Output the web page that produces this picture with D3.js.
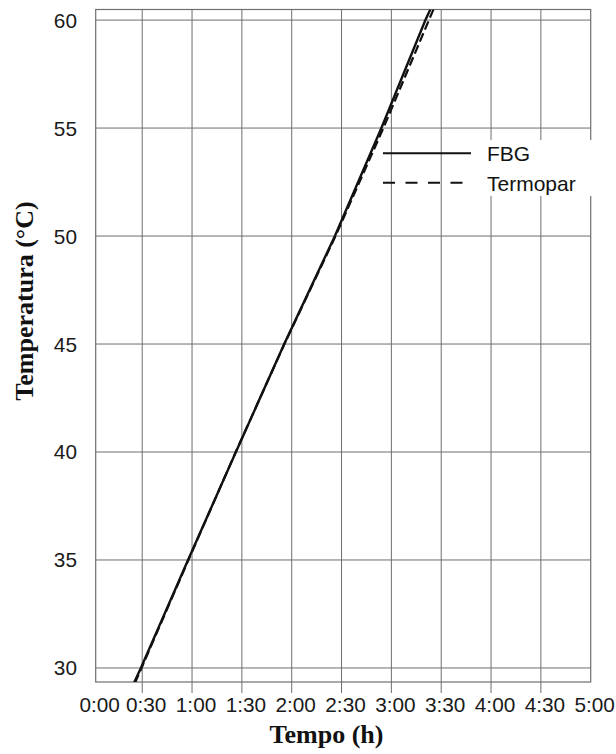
<!DOCTYPE html>
<html>
<head>
<meta charset="utf-8">
<script src="https://cdn.jsdelivr.net/npm/d3@7"></script>
<style>
  html, body { margin: 0; padding: 0; background: #fff; }
  svg { display: block; }
</style>
</head>
<body>
<svg id="chart" width="616" height="754"></svg>
<script>
// Time in minutes, temperature in °C
const fbgTime = [25, 29.2, 57.6, 86.4, 115.5, 146, 174, 200.5, 203.5];
const fbgTemp = [29.3, 30, 35, 40, 45, 50, 55, 60, 60.5];
const termoparTime = [25.6, 29.6, 57.8, 86.3, 115.6, 146.4, 175.2, 202.6, 205.4];
const termoparTemp = [29.3, 30, 35, 40, 45, 50, 55, 60, 60.5];

const xTickMinutes = [0, 30, 60, 90, 120, 150, 180, 210, 240, 270, 300];
const xTickLabels = ["0:00", "0:30", "1:00", "1:30", "2:00", "2:30", "3:00", "3:30", "4:00", "4:30", "5:00"];
const yTicks = [30, 35, 40, 45, 50, 55, 60];
const seriesNames = ["FBG", "Termopar"];

const svg = d3.select("#chart");
const plotLeft = 95.7, plotRight = 590.7, plotTop = 9.5, plotBottom = 682;

const x = d3.scaleLinear().domain([2, 300]).range([plotLeft, plotRight]);
const y = d3.scaleLinear().domain([29.35, 60.49]).range([plotBottom, plotTop]);

const gridColor = "#6e6e6e";
const labelFont = "Liberation Sans, Arial, sans-serif";
const titleFont = "Liberation Serif, Times New Roman, serif";

// Vertical grid lines, extended below the frame as tick marks
svg.append("g").selectAll("line")
  .data(xTickMinutes.filter(m => m > 2 && m < 300))
  .join("line")
  .attr("x1", d => x(d)).attr("x2", d => x(d))
  .attr("y1", plotTop).attr("y2", plotBottom + 11)
  .attr("stroke", gridColor).attr("stroke-width", 1);

// Horizontal grid lines
svg.append("g").selectAll("line")
  .data(yTicks)
  .join("line")
  .attr("x1", plotLeft).attr("x2", plotRight)
  .attr("y1", d => y(d)).attr("y2", d => y(d))
  .attr("stroke", gridColor).attr("stroke-width", 1);

// Plot frame
svg.append("rect")
  .attr("x", plotLeft).attr("y", plotTop)
  .attr("width", plotRight - plotLeft).attr("height", plotBottom - plotTop)
  .attr("fill", "none").attr("stroke", gridColor).attr("stroke-width", 1.2);

// Tick labels
svg.append("g").selectAll("text")
  .data(xTickMinutes)
  .join("text")
  .attr("x", d => x(Math.max(d, x.domain()[0])) + 4)
  .attr("y", 711.5)
  .attr("text-anchor", "middle")
  .attr("font-family", labelFont)
  .attr("font-size", 20.8)
  .attr("fill", "#1a1a1a")
  .text((d, i) => xTickLabels[i]);

svg.append("g").selectAll("text")
  .data(yTicks)
  .join("text")
  .attr("x", 77)
  .attr("y", d => y(d))
  .attr("dy", "0.36em")
  .attr("text-anchor", "end")
  .attr("font-family", labelFont)
  .attr("font-size", 20.8)
  .attr("fill", "#1a1a1a")
  .text(d => d);

// Axis titles
svg.append("text")
  .attr("x", 326.5).attr("y", 743)
  .attr("text-anchor", "middle")
  .attr("font-family", titleFont)
  .attr("font-weight", "bold")
  .attr("font-size", 26)
  .attr("fill", "#111")
  .text("Tempo (h)");

svg.append("text")
  .attr("transform", "translate(33,301) rotate(-90)")
  .attr("text-anchor", "middle")
  .attr("font-family", titleFont)
  .attr("font-weight", "bold")
  .attr("font-size", 26)
  .attr("fill", "#111")
  .text("Temperatura (°C)");

// Data lines, clipped to the plot frame
svg.append("clipPath").attr("id", "plotClip")
  .append("rect").attr("x", plotLeft).attr("y", plotTop)
  .attr("width", plotRight - plotLeft).attr("height", plotBottom - plotTop);

const line = d3.line().x(d => x(d[0])).y(d => y(d[1]));
const plot = svg.append("g").attr("clip-path", "url(#plotClip)");

plot.append("path")
  .datum(termoparTime.map((t, i) => [t, termoparTemp[i]]))
  .attr("d", line)
  .attr("fill", "none").attr("stroke", "#111")
  .attr("stroke-width", 2.2)
  .attr("stroke-dasharray", "9,4");

plot.append("path")
  .datum(fbgTime.map((t, i) => [t, fbgTemp[i]]))
  .attr("d", line)
  .attr("fill", "none").attr("stroke", "#111")
  .attr("stroke-width", 2.4);

// Legend
const legend = svg.append("g");
legend.append("rect")
  .attr("x", 484).attr("y", 140).attr("width", 109).attr("height", 56)
  .attr("fill", "#fff");
legend.append("line")
  .attr("x1", 383).attr("x2", 471).attr("y1", 153.3).attr("y2", 153.3)
  .attr("stroke", "#111").attr("stroke-width", 2);
legend.append("line")
  .attr("x1", 383).attr("x2", 469).attr("y1", 182.7).attr("y2", 182.7)
  .attr("stroke", "#111").attr("stroke-width", 2)
  .attr("stroke-dasharray", "12,10.5");
legend.selectAll("text.lbl")
  .data(seriesNames)
  .join("text")
  .attr("class", "lbl")
  .attr("x", 487)
  .attr("y", (d, i) => 160.5 + i * 30)
  .attr("font-family", labelFont)
  .attr("font-size", 21)
  .attr("fill", "#111")
  .text(d => d);
</script>
</body>
</html>
